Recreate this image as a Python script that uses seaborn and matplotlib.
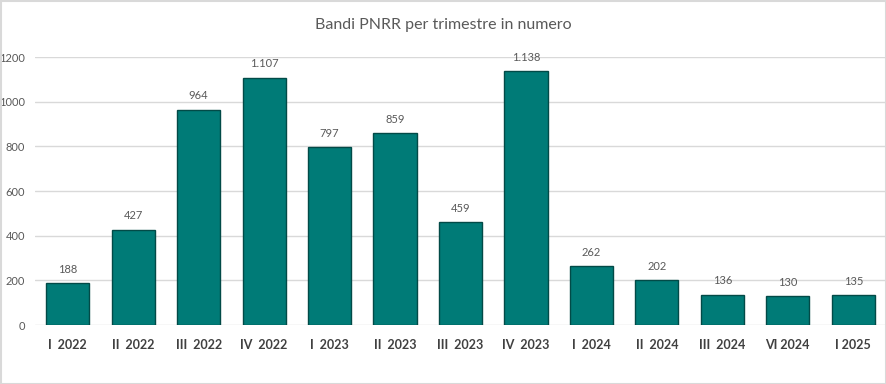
import matplotlib
matplotlib.use("Agg")
import matplotlib.pyplot as plt
import seaborn as sns
import pandas as pd
from matplotlib.patches import Rectangle

categories = ["I  2022", "II  2022", "III  2022", "IV  2022", "I  2023", "II  2023",
              "III  2023", "IV  2023", "I  2024", "II  2024", "III  2024", "VI 2024", "I 2025"]
values = [188, 427, 964, 1107, 797, 859, 459, 1138, 262, 202, 136, 130, 135]
yticks = [0, 200, 400, 600, 800, 1000, 1200]
title = "Bandi PNRR per trimestre in numero"

sns.set_theme(style="white")
plt.rcParams['font.family'] = ['Lato', 'DejaVu Sans']

df = pd.DataFrame({"cat": categories, "val": values})

fig = plt.figure(figsize=(8.86, 3.84), dpi=100)
ax = fig.add_axes([35/886, 59/384, 851/886, 268/384])

sns.barplot(data=df, x="cat", y="val", color="#007B77", saturation=1, width=0.66,
            edgecolor="#024a47", linewidth=1.0, ax=ax, zorder=3)

ax.set_ylim(0, 1200)
ax.set_yticks(yticks)
ax.set_yticklabels([str(t) for t in yticks], color="#595959", fontsize=8)
ax.grid(axis="y", color="#d9d9d9", linewidth=1, zorder=0)
ax.set_axisbelow(True)
for s in ax.spines.values():
    s.set_visible(False)
ax.tick_params(axis="y", length=0, pad=7)
ax.tick_params(axis="x", length=0, pad=10)
ax.set_xlabel("")
ax.set_ylabel("")
for lbl in ax.get_xticklabels():
    lbl.set_fontsize(9)
    lbl.set_fontweight("bold")
    lbl.set_color("#404040")

for p, v in zip(ax.patches, values):
    txt = f"{v:,}".replace(",", ".")
    ax.annotate(txt, (p.get_x() + p.get_width() / 2, p.get_height()),
                xytext=(0, 6), textcoords="offset points", ha="center", va="bottom",
                fontsize=8, color="#595959", annotation_clip=False)

fig.text(0.5, 1 - 25/384, title, ha="center", va="center", fontsize=11.5, color="#595959")

fig.patches.append(Rectangle((0.5/886, 0.5/384), 1 - 1/886, 1 - 1/384, transform=fig.transFigure,
                             fill=False, edgecolor="#d9d9d9", linewidth=1.5))

fig.savefig("out.png", dpi=100)
